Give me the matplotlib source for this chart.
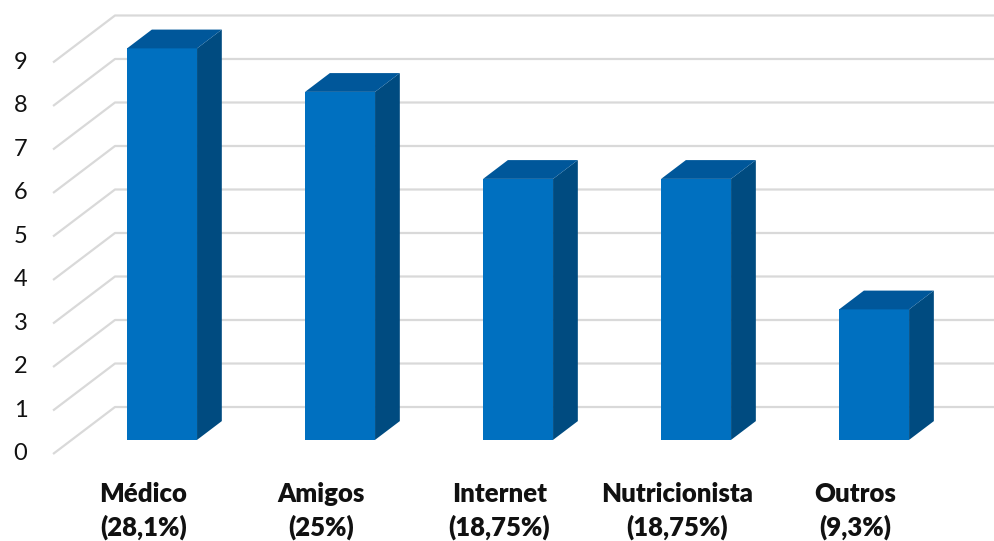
import matplotlib.pyplot as plt
from matplotlib.patches import Polygon

categories = ['Médico', 'Amigos', 'Internet', 'Nutricionista', 'Outros']
percent_labels = ['(28,1%)', '(25%)', '(18,75%)', '(18,75%)', '(9,3%)']
counts = [9, 8, 6, 6, 3]
y_ticks = list(range(0, 10))

# fake 3D: offset of the front edge of the floor relative to the back wall
depth_dx = -0.348
depth_dy = -1.08
bar_width = 0.393
bar_front = 0.3   # depth fraction of the bar's front face (0 = front, 1 = wall)
bar_back = 0.7
wall_left = -0.508

front_color = '#0070c0'
side_color = '#004b80'
top_color = '#00579a'
grid_color = '#d9d9d9'

plt.rcParams['font.family'] = ['Lato', 'DejaVu Sans']

fig = plt.figure(figsize=(9.94, 5.41), dpi=100)
ax = fig.add_axes([0, 0, 1, 1])
ax.set_xlim(-1.154, 4.430)
ax.set_ylim(-3.08, 9.356)
ax.axis('off')


def offset(t):
    return (1 - t) * depth_dx, (1 - t) * depth_dy


# gridlines: diagonal on the floor side, then along the back wall
for v in y_ticks:
    ax.plot([wall_left + depth_dx, wall_left, 4.5], [v + depth_dy, v, v],
            color=grid_color, lw=1.6, solid_capstyle='butt', zorder=1)
    ax.text(-1.0, v + depth_dy, str(v), ha='right', va='center',
            fontsize=17, color='#111111')

ox0, oy0 = offset(bar_front)
ox1, oy1 = offset(bar_back)
for i, v in enumerate(counts):
    left = i - bar_width / 2
    right = i + bar_width / 2
    front = Polygon([(left + ox0, oy0), (right + ox0, oy0),
                     (right + ox0, v + oy0), (left + ox0, v + oy0)],
                    closed=True, facecolor=front_color, edgecolor='none', zorder=3)
    side = Polygon([(right + ox0, oy0), (right + ox1, oy1),
                    (right + ox1, v + oy1), (right + ox0, v + oy0)],
                   closed=True, facecolor=side_color, edgecolor='none', zorder=3)
    top = Polygon([(left + ox0, v + oy0), (right + ox0, v + oy0),
                   (right + ox1, v + oy1), (left + ox1, v + oy1)],
                  closed=True, facecolor=top_color, edgecolor='none', zorder=3)
    for p in (front, side, top):
        ax.add_patch(p)

    ax.text(i + depth_dx, -2.39, categories[i] + '\n' + percent_labels[i],
            ha='center', va='center', multialignment='center',
            fontsize=18.5, fontweight='heavy', linespacing=1.38, color='#111111')

fig.savefig('out.png', dpi=100)
